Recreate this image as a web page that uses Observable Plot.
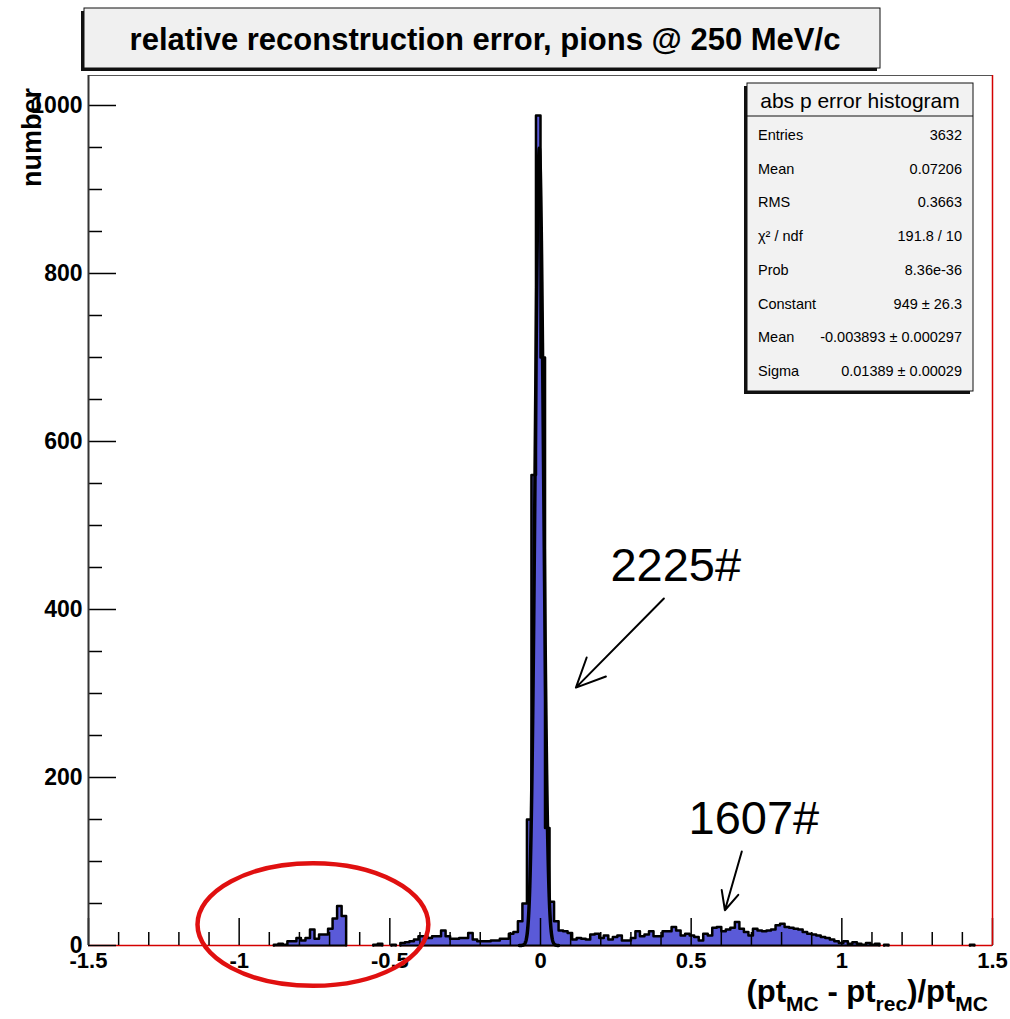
<!DOCTYPE html>
<html>
<head>
<meta charset="utf-8">
<script src="https://cdn.jsdelivr.net/npm/d3@7"></script>
<script src="https://cdn.jsdelivr.net/npm/@observablehq/plot@0.6"></script>
<style>
  html, body { margin: 0; padding: 0; background: #fff; }
  #chart { width: 1010px; height: 1019px; }
</style>
</head>
<body>
<div id="chart"></div>
<script>
// ---------------- data ----------------
const binStart = -1.5;
const binWidth = 0.015;
const counts = [
  0,0,0,0,0,0,0,0,0,0,0,0,0,0,0,0,0,0,0,0,
  0,0,0,0,0,0,0,0,0,0,0,0,0,0,0,0,0,0,0,0,
  0,1,2,1,5,5,9,6,9,19,8,13,13,20,32,47,35,0,0,0,
  0,0,0,1,2,0,0,1,0,3,4,5,7,11,11,9,11,11,18,11,
  8,8,9,9,15,7,5,5,5,6,6,8,8,14,16,29,50,150,560,988,
  700,140,52,29,18,17,15,7,9,8,7,13,14,9,12,7,10,12,6,6,
  9,17,11,13,17,11,11,17,17,22,18,12,14,12,10,6,14,12,21,22,
  17,19,21,28,20,16,12,20,18,17,18,19,24,26,22,21,20,19,16,14,
  13,12,10,9,7,5,3,5,2,4,2,1,3,1,2,0,1,0,0,0,
  0,0,0,0,0,0,0,0,0,0,0,0,0,0,0,1,0,0,0,0
];
const majorX = [-1.5, -1, -0.5, 0, 0.5, 1, 1.5];
const minorX = [-1.4, -1.3, -1.2, -1.1, -0.9, -0.8, -0.7, -0.6, -0.4, -0.3, -0.2, -0.1,
                0.1, 0.2, 0.3, 0.4, 0.6, 0.7, 0.8, 0.9, 1.1, 1.2, 1.3, 1.4];
const majorY = [0, 200, 400, 600, 800, 1000];
const minorY = [50, 100, 150, 250, 300, 350, 450, 500, 550, 650, 700, 750, 850, 900, 950];
const yMax = 1035.7;

const fitConstant = 949;
const fitMean = -0.003893;
const fitSigma = 0.01389;
const fitRange = [-0.07, 0.06];

const titleText = "relative reconstruction error, pions @ 250 MeV/c";
const statsTitle = "abs p error histogram";
const statsLabels = ["Entries", "Mean", "RMS", "\u03c7\u00b2 / ndf", "Prob", "Constant", "Mean", "Sigma"];
const statsValues = ["3632", "0.07206", "0.3663", "191.8 / 10", "8.36e-36", "949 \u00b1 26.3", "-0.003893 \u00b1 0.000297", "0.01389 \u00b1 0.00029"];

const annotTexts = [
  {text: "2225#", x: 0.449, y: 452},
  {text: "1607#", x: 0.708, y: 151}
];
const annotArrows = [
  {x1: 0.4095, y1: 413, x2: 0.1175, y2: 307},
  {x1: 0.668, y1: 112, x2: 0.612, y2: 42}
];
const annotEllipses = [{cx: -0.7536, cy: 24.4, rx: 0.383, ry: 73}];

// ---------------- derived ----------------
const bins = counts.map((c, i) => ({lo: binStart + i * binWidth, hi: binStart + (i + 1) * binWidth, c}));
const outline = [];
const runs = [];
let run = -1;
bins.forEach((b, i) => {
  const prev = i > 0 ? bins[i - 1].c : 0;
  const next = i + 1 < bins.length ? bins[i + 1].c : 0;
  if (b.c > 0) {
    if (prev === 0) { run++; outline.push({x: b.lo, y: 0, run}); runs.push({start: b.lo, end: b.hi}); }
    outline.push({x: b.lo, y: b.c, run}, {x: b.hi, y: b.c, run});
    runs[run].end = b.hi;
    if (next === 0) outline.push({x: b.hi, y: 0, run});
  }
});
const fitPts = d3.range(fitRange[0], fitRange[1] + 1e-9, 0.0005).map(x => ({
  x, y: fitConstant * Math.exp(-((x - fitMean) ** 2) / (2 * fitSigma * fitSigma))
}));

const FONT = "'Liberation Sans', Arial, Helvetica, sans-serif";
const fillBlue = "#5a5ad8";
const red = "#d40000";

const chart = Plot.plot({
  width: 1010,
  height: 1019,
  marginLeft: 88,
  marginRight: 18,
  marginTop: 75,
  marginBottom: 74,
  x: {domain: [-1.5, 1.5], label: null},
  y: {domain: [0, yMax], label: null},
  style: {fontFamily: FONT, background: "#fff", overflow: "visible", color: "#000"},
  marks: [
    Plot.frame({stroke: "#555", strokeWidth: 1}),
    Plot.ruleY([0], {stroke: red, strokeWidth: 1.5}),
    Plot.area(outline, {x1: "x", y1: 0, y2: "y", z: "run", fill: fillBlue, curve: "linear"}),
    Plot.line(outline, {x: "x", y: "y", z: "run", stroke: "#000", strokeWidth: 2.5}),
    Plot.ruleY(runs, {y: 0, x1: "start", x2: "end", stroke: "#000", strokeWidth: 2}),
    Plot.line(fitPts, {x: "x", y: "y", stroke: "#000", strokeWidth: 3.5}),
    Plot.axisX({ticks: minorX, tickSize: 13, dy: -13, tickFormat: () => "", strokeWidth: 1.5, label: null}),
    Plot.axisX({ticks: majorX, tickSize: 27, dy: -27, tickFormat: () => "", strokeWidth: 1.5, label: null}),
    Plot.axisX({ticks: majorX, tickSize: 0, tickPadding: 7, tickFormat: d => String(d), fontSize: 22, fontWeight: "bold", label: null}),
    Plot.axisY({ticks: minorY, tickSize: 14, dx: 14, tickFormat: () => "", strokeWidth: 1.5, label: null}),
    Plot.axisY({ticks: majorY, tickSize: 28, dx: 28, tickFormat: () => "", strokeWidth: 1.5, label: null}),
    Plot.axisY({ticks: majorY, tickSize: 0, tickPadding: 6, tickFormat: d => String(d), fontSize: 23, fontWeight: "bold", label: null}),
    Plot.ruleX([-1.5], {stroke: "#333", strokeWidth: 2}),
    Plot.ruleX([1.5], {stroke: red, strokeWidth: 1.5}),
    Plot.arrow(annotArrows, {x1: "x1", y1: "y1", x2: "x2", y2: "y2", stroke: "#000", strokeWidth: 2, headLength: 24, headAngle: 50}),
    Plot.text(annotTexts, {x: "x", y: "y", text: "text", fontSize: 47, fill: "#000", fontFamily: FONT})
  ]
});
document.getElementById("chart").appendChild(chart);

// ---------------- decorations through the scales / layout ----------------
const svg = d3.select(chart);
const sx = chart.scale("x"), sy = chart.scale("y");
annotEllipses.forEach(e => {
  const cx = sx.apply(e.cx), cy = sy.apply(e.cy);
  svg.append("ellipse")
    .attr("cx", cx).attr("cy", cy)
    .attr("rx", sx.apply(e.cx + e.rx) - cx)
    .attr("ry", cy - sy.apply(e.cy + e.ry))
    .attr("fill", "none").attr("stroke", "#e01010").attr("stroke-width", 4.5);
});

// title box (left-bottom shadow)
const tb = svg.append("g").attr("text-anchor", "start");
tb.append("rect").attr("x", 81).attr("y", 11).attr("width", 796).attr("height", 60).attr("fill", "#111");
tb.append("rect").attr("x", 84).attr("y", 8).attr("width", 796).attr("height", 60).attr("fill", "#f0f0f0").attr("stroke", "#111").attr("stroke-width", 1);
tb.append("text").attr("x", 485).attr("y", 39).attr("text-anchor", "middle").attr("dominant-baseline", "central")
  .attr("font-family", FONT).attr("font-weight", "bold").attr("font-size", 31).attr("fill", "#000").text(titleText);

// stats box
const sb = svg.append("g").attr("text-anchor", "start");
const bx = 747, by = 83, bw = 226, bh = 308;
sb.append("rect").attr("x", bx - 3).attr("y", by + 3).attr("width", bw).attr("height", bh).attr("fill", "#111");
sb.append("rect").attr("x", bx).attr("y", by).attr("width", bw).attr("height", bh).attr("fill", "#f2f2f2").attr("stroke", "#111").attr("stroke-width", 1);
sb.append("line").attr("x1", bx).attr("x2", bx + bw).attr("y1", by + 33).attr("y2", by + 33).attr("stroke", "#111").attr("stroke-width", 1.2);
sb.append("text").attr("x", bx + bw / 2).attr("y", by + 17).attr("text-anchor", "middle").attr("dominant-baseline", "central")
  .attr("font-family", FONT).attr("font-size", 21).attr("fill", "#000").text(statsTitle);
statsLabels.forEach((lab, i) => {
  const yy = by + 52 + i * 33.7;
  sb.append("text").attr("x", bx + 11).attr("y", yy).attr("text-anchor", "start").attr("dominant-baseline", "central")
    .attr("font-family", FONT).attr("font-size", 14.5).attr("fill", "#000").text(lab);
  sb.append("text").attr("x", bx + bw - 11).attr("y", yy).attr("text-anchor", "end").attr("dominant-baseline", "central")
    .attr("font-family", FONT).attr("font-size", 14.5).attr("fill", "#000").text(statsValues[i]);
});

// y axis title
svg.append("text").attr("transform", "translate(41,88) rotate(-90)").attr("text-anchor", "end")
  .attr("font-family", FONT).attr("font-weight", "bold").attr("font-size", 27).attr("fill", "#000").text("number");

// x axis title with subscripts
const xt = svg.append("text").attr("x", 988).attr("y", 1002).attr("text-anchor", "end")
  .attr("font-family", FONT).attr("font-weight", "bold").attr("font-size", 31).attr("fill", "#000");
const parts = [["(pt", false], ["MC", true], [" - pt", false], ["rec", true], [")/pt", false], ["MC", true]];
let sub = false;
parts.forEach(([t, s]) => {
  const ts = xt.append("tspan").text(t);
  if (s) { ts.attr("font-size", 21).attr("dy", sub ? 0 : 9); }
  else { ts.attr("dy", sub ? -9 : 0); }
  sub = s;
});
</script>
</body>
</html>
